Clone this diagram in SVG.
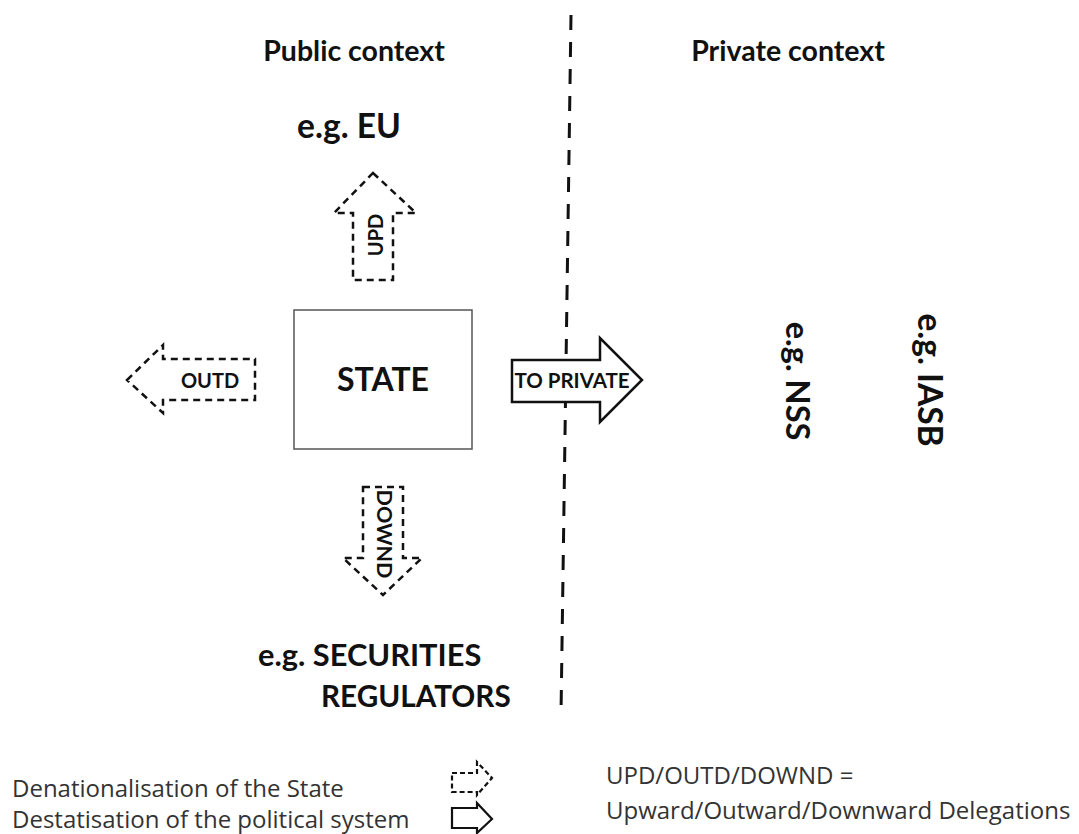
<svg xmlns="http://www.w3.org/2000/svg" width="1079" height="834" viewBox="0 0 1079 834">
<style>
.t{font-family:Lato,"Open Sans","Liberation Sans",sans-serif;fill:#111}
.b{font-weight:bold}
.leg{font-family:"Open Sans",Lato,"Liberation Sans",sans-serif;fill:#333;font-size:24px}
.da{fill:#fff;stroke:#111;stroke-width:2.5;stroke-dasharray:7 5;stroke-linejoin:miter}
.so{fill:#fff;stroke:#111;stroke-width:2.5;stroke-linejoin:miter}
</style>
<rect width="1079" height="834" fill="#fff"/>
<g id="connectors">
<line x1="571" y1="15" x2="561" y2="715" stroke="#111" stroke-width="3" stroke-dasharray="15 12"/>
</g>
<g id="headers">
<text class="t b" x="354" y="61" font-size="28.5" text-anchor="middle">Public context</text>
<text class="t b" x="788" y="61" font-size="28.5" text-anchor="middle">Private context</text>
</g>
<g id="state">
<rect x="294" y="310" width="178" height="139" fill="#fff" stroke="#555" stroke-width="1.5"/>
<text class="t b" x="383" y="391" font-size="32" text-anchor="middle">STATE</text>
</g>
<g id="eu">
<text class="t b" x="349" y="138" font-size="33.5" text-anchor="middle">e.g. EU</text>
</g>
<g id="upd">
<path class="da" d="M373,173 L416,213 L393,213 L393,280 L353,280 L353,213 L334,213 Z"/>
<text class="t b" transform="translate(383,235) rotate(-90)" font-size="20" text-anchor="middle">UPD</text>
</g>
<g id="outd">
<path class="da" d="M127,380 L163,345 L163,359 L255,359 L255,400 L163,400 L163,413 Z"/>
<text class="t b" x="210" y="388" font-size="20" text-anchor="middle">OUTD</text>
</g>
<g id="downd">
<path class="da" d="M363,487 L403,487 L403,558 L422,558 L383,595 L343,558 L363,558 Z"/>
<text class="t b" transform="translate(377,534) rotate(90)" font-size="21.5" text-anchor="middle">DOWND</text>
</g>
<g id="securities">
<text class="t b" x="258" y="666" font-size="30.8">e.g. SECURITIES</text>
<text class="t b" x="321" y="707" font-size="29.7">REGULATORS</text>
</g>
<g id="toprivate">
<path class="so" d="M512,360 L600,360 L600,338 L642,380 L600,422 L600,402 L512,402 Z"/>
<text class="t b" x="572" y="388" font-size="20.5" text-anchor="middle">TO PRIVATE</text>
</g>
<g id="nss">
<text class="t b" transform="translate(786,381) rotate(90)" font-size="32.5" text-anchor="middle">e.g. NSS</text>
</g>
<g id="iasb">
<text class="t b" transform="translate(918,380) rotate(90)" font-size="33.5" text-anchor="middle">e.g. IASB</text>
</g>
<g id="legend">
<text class="leg" x="12" y="797">Denationalisation of the State</text>
<text class="leg" x="12" y="828">Destatisation of the political system</text>
<path d="M452,773 L477,773 L477,762 L492,778 L477,795 L477,792 L452,792 Z" fill="#fff" stroke="#111" stroke-width="2.2" stroke-dasharray="5 3"/>
<path d="M452,808 L477,808 L477,803 L492,819 L477,833 L477,828 L452,828 Z" fill="#fff" stroke="#111" stroke-width="2.2"/>
<text class="leg" x="606" y="784">UPD/OUTD/DOWND =</text>
<text class="leg" x="606" y="819">Upward/Outward/Downward Delegations</text>
</g>
</svg>
